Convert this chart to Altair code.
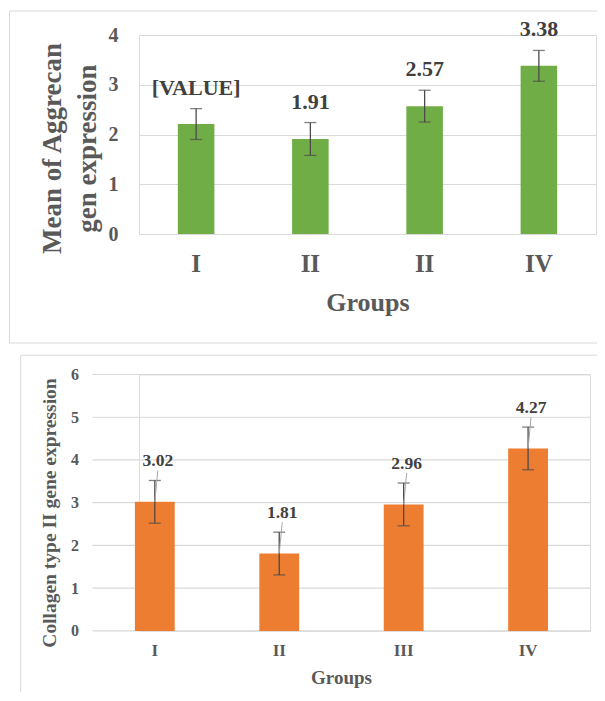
import altair as alt
import pandas as pd

# ---- data ----
top_groups = ["I", "II", "II", "IV"]
top_values = [2.21, 1.91, 2.57, 3.38]
top_errors = [0.31, 0.33, 0.32, 0.31]
top_text = ["[VALUE]", "1.91", "2.57", "3.38"]
top_ticks = [0, 1, 2, 3, 4]

bot_groups = ["I", "II", "III", "IV"]
bot_values = [3.02, 1.81, 2.96, 4.27]
bot_errors = [0.50, 0.50, 0.50, 0.50]
bot_text = ["3.02", "1.81", "2.96", "4.27"]
bot_ticks = [0, 1, 2, 3, 4, 5, 6]

FONT = "Liberation Serif"
AXIS_GRAY = "#595959"
LABEL_DARK = "#404040"
ERR = "#4a4a4a"
GRID = "#d9d9d9"
FRAME = "#d9d9d9"


def make_df(vals, errs, texts):
    return pd.DataFrame({
        "idx": list(range(len(vals))),
        "value": vals,
        "lo": [v - e for v, e in zip(vals, errs)],
        "hi": [v + e for v, e in zip(vals, errs)],
        "txt": texts,
    })


def label_expr(names):
    return "[" + ",".join("'" + n + "'" for n in names) + "][datum.value]"


one = pd.DataFrame({"k": [0]})

# ---------------- top chart ----------------
dft = make_df(top_values, top_errors, top_text)
xt = alt.X(
    "idx:O",
    scale=alt.Scale(paddingInner=0.68, paddingOuter=0.34),
    axis=alt.Axis(
        labelExpr=label_expr(top_groups), labelAngle=0, domain=False, ticks=False,
        labelFont=FONT, labelFontSize=25, labelFontWeight="bold", labelColor=AXIS_GRAY,
        labelPadding=17, title="Groups", titleFont=FONT, titleFontSize=26,
        titleFontWeight="bold", titleColor=AXIS_GRAY, titleBaseline="middle", titleY=68,
    ),
)
yt = alt.Y(
    "value:Q", scale=alt.Scale(domain=[0, 4]),
    axis=alt.Axis(
        values=top_ticks, grid=True, gridColor=GRID, domain=False, ticks=False, tickSize=0,
        labelFont=FONT, labelFontSize=20, labelFontWeight="bold", labelColor=AXIS_GRAY,
        labelPadding=21, title=["Mean of Aggrecan", "gen expression"], titleFont=FONT,
        titleFontSize=27, titleFontWeight="bold", titleColor=AXIS_GRAY, titleLineHeight=35,
        titleBaseline="middle", titleAlign="center", titleAngle=270, titleX=-87, titleY=113,
    ),
)
base_t = alt.Chart(dft)
bars_t = base_t.mark_bar(color="#70AD47").encode(x=xt, y=yt)
err_t = base_t.mark_rule(color=ERR, strokeWidth=1.3).encode(x="idx:O", y="lo:Q", y2="hi:Q")
caplo_t = base_t.mark_tick(color=ERR, orient="horizontal", size=12, thickness=1.3).encode(x="idx:O", y="lo:Q")
caphi_t = base_t.mark_tick(color=ERR, orient="horizontal", size=12, thickness=1.3).encode(x="idx:O", y="hi:Q")
text_t = base_t.mark_text(font=FONT, fontSize=22, fontWeight="bold", color=LABEL_DARK,
                          baseline="middle", dy=-21).encode(x="idx:O", y="hi:Q", text="txt:N")
fr = alt.Chart(one)
frame_t = alt.layer(
    fr.mark_rule(color=FRAME).encode(x=alt.value(-129.5), y=alt.value(-24), y2=alt.value(308)),
    fr.mark_rule(color=FRAME).encode(x=alt.value(-129.5), x2=alt.value(464), y=alt.value(-24)),
    fr.mark_rule(color=FRAME).encode(x=alt.value(-129.5), x2=alt.value(464), y=alt.value(308)),
)
top = alt.layer(frame_t, bars_t, err_t, caplo_t, caphi_t, text_t).properties(width=457, height=199)

# ---------------- bottom chart ----------------
dfb = make_df(bot_values, bot_errors, bot_text)
XR = [-46.4, 451.3]
xb = alt.X(
    "idx:O",
    scale=alt.Scale(paddingInner=0.68, paddingOuter=0.34, range=XR),
    axis=alt.Axis(
        labelExpr=label_expr(bot_groups), labelAngle=0, domain=False, ticks=False,
        labelFont=FONT, labelFontSize=17, labelFontWeight="bold", labelColor=AXIS_GRAY,
        labelPadding=12, title="Groups", titleFont=FONT, titleFontSize=19,
        titleFontWeight="bold", titleColor=AXIS_GRAY, titleBaseline="middle",
        titleX=202, titleY=47,
    ),
)
yb = alt.Y(
    "value:Q", scale=alt.Scale(domain=[0, 6]),
    axis=alt.Axis(
        values=bot_ticks, grid=False, domain=False, ticks=False, tickSize=0, offset=46.4,
        labelFont=FONT, labelFontSize=16, labelFontWeight="bold", labelColor=AXIS_GRAY,
        labelPadding=14, title="Collagen type II gene expression", titleFont=FONT,
        titleFontSize=19.5, titleFontWeight="bold", titleColor=AXIS_GRAY,
        titleBaseline="middle", titleAlign="center", titleAngle=270, titleX=-43, titleY=138,
    ),
)
base_b = alt.Chart(dfb)
grid_b = alt.Chart(pd.DataFrame({"t": bot_ticks})).mark_rule(color=GRID, strokeWidth=1.2).encode(
    y="t:Q", x=alt.value(XR[0]), x2=alt.value(XR[1]))
bars_b = base_b.mark_bar(color="#ED7D31").encode(x=xb, y=yb)
err_b = base_b.mark_rule(color=ERR, strokeWidth=1.3).encode(x="idx:O", y="lo:Q", y2="hi:Q")
caplo_b = base_b.mark_tick(color=ERR, orient="horizontal", size=12, thickness=1.3).encode(x="idx:O", y="lo:Q")
caphi_b = base_b.mark_tick(color=ERR, orient="horizontal", size=12, thickness=1.3).encode(x="idx:O", y="hi:Q")
lead_b = base_b.mark_rule(color="#a6a6a6", strokeWidth=1, x2Offset=3, y2Offset=-10).encode(
    x=alt.X("idx:O", bandPosition=0.5), x2=alt.X2("idx", bandPosition=0.5), y="value:Q", y2="hi:Q")
text_b = base_b.mark_text(font=FONT, fontSize=17.5, fontWeight="bold", color=LABEL_DARK,
                          baseline="middle", dy=-19, dx=3).encode(x="idx:O", y="hi:Q", text="txt:N")
frame_b = alt.layer(
    fr.mark_rule(color=FRAME).encode(x=alt.value(-118.3), y=alt.value(-19.3), y2=alt.value(330)),
    fr.mark_rule(color=FRAME).encode(x=alt.value(-118.3), x2=alt.value(464), y=alt.value(-19.3)),
)
bottom = alt.layer(frame_b, grid_b, bars_b, err_b, caplo_b, caphi_b, lead_b, text_b).properties(
    width=451, height=256.4)

chart = alt.vconcat(top, bottom, spacing=9.5).properties(
    padding={"left": 0, "top": 2, "right": -41, "bottom": -14}
).configure_view(stroke=None).configure(background="white")

chart.save("out.html", embed_options={"renderer": "svg", "actions": False})
